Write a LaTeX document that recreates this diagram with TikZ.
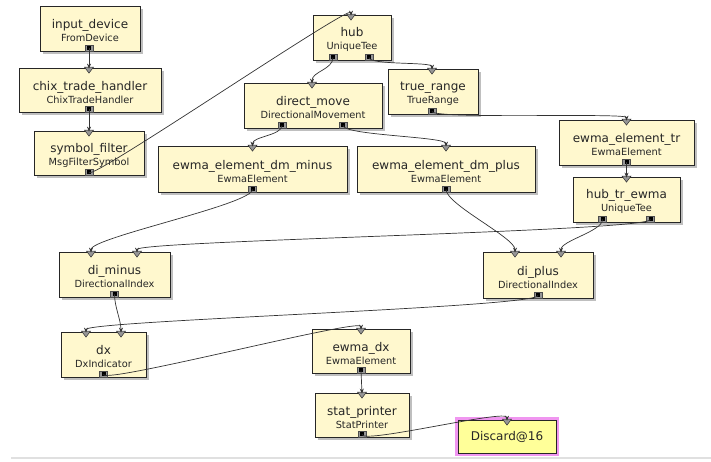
\documentclass[tikz,border=0pt]{standalone}
\usepackage{fontspec}
\setmainfont{DejaVu Sans}
\usetikzlibrary{calc,shadows,arrows.meta}

\definecolor{elemfill}{RGB}{255,248,206}
\definecolor{discfill}{RGB}{255,255,153}
\definecolor{discedge}{RGB}{240,150,240}
\definecolor{portgray}{RGB}{150,150,150}

% element text: instance name over class name
\newcommand{\elem}[2]{\rule{0pt}{14pt}#1\\{\fontsize{9.8}{13}\selectfont #2}}
% ports: name, element, offset from the middle
\newcommand{\inport}[3]{\coordinate (#1) at ($(#2.north)+(#3,1)$);
  \draw[inmark] ($(#1)+(-4.5,-1.5)$) -- ($(#1)+(4.5,-1.5)$) -- ($(#1)+(0,4.5)$) -- cycle;}
\newcommand{\outport}[3]{\coordinate (#1) at ($(#2.south)+(#3,-3)$);
  \draw[outmark] ($(#1)+(-4,-3.5)$) rectangle ($(#1)+(4,3)$);
  \fill ($(#1)+(-2,-2)$) rectangle ($(#1)+(2,1.5)$);}

\tikzset{
  blk/.style={draw=black!85, fill=elemfill, line width=0.8pt, align=center,
    font=\fontsize{12}{13}\selectfont, text=black!85, inner sep=2pt, minimum height=45pt,
    drop shadow={shadow xshift=2.5pt, shadow yshift=-2.5pt, fill=black!25, opacity=1}},
  inmark/.style={fill=portgray, draw=black!80, line width=0.5pt},
  outmark/.style={fill=portgray, draw=black!70, line width=0.5pt},
  wire/.style={draw=black!80, line width=0.7pt, -{Stealth[length=5pt,width=4pt]}},
}

\begin{document}
\begin{tikzpicture}[x=1pt, y=-1pt]
  \useasboundingbox (0,0) rectangle (711,461);

  % elements
  \node[blk, minimum width=100pt] (idev) at (90,28.5) {\elem{input\_device}{FromDevice}};
  \node[blk, minimum width=142pt, minimum height=44pt] (cth) at (90,90) {\elem{chix\_trade\_handler}{ChixTradeHandler}};
  \node[blk, minimum width=110pt, minimum height=44pt] (sf) at (89,153) {\elem{symbol\_filter}{MsgFilterSymbol}};
  \node[blk, minimum width=78pt] (hub) at (352,37.5) {\elem{hub}{UniqueTee}};
  \node[blk, minimum width=90pt] (tr) at (433,91.5) {\elem{true\_range}{TrueRange}};
  \node[blk, minimum width=138pt] (dm) at (313,105.5) {\elem{direct\_move}{DirectionalMovement}};
  \node[blk, minimum width=189pt, minimum height=46pt] (dmm) at (252.5,169) {\elem{ewma\_element\_dm\_minus}{EwmaElement}};
  \node[blk, minimum width=178pt, minimum height=46pt] (dmp) at (446,169) {\elem{ewma\_element\_dm\_plus}{EwmaElement}};
  \node[blk, minimum width=135pt] (ewtr) at (626.5,142.5) {\elem{ewma\_element\_tr}{EwmaElement}};
  \node[blk, minimum width=107pt] (hte) at (626.5,199.5) {\elem{hub\_tr\_ewma}{UniqueTee}};
  \node[blk, minimum width=111pt] (dim) at (114.5,274.5) {\elem{di\_minus}{DirectionalIndex}};
  \node[blk, minimum width=110pt, minimum height=46pt] (dip) at (538,275) {\elem{di\_plus}{DirectionalIndex}};
  \node[blk, minimum width=85pt] (dx) at (103.5,354.5) {\elem{dx}{DxIndicator}};
  \node[blk, minimum width=98pt, minimum height=44pt] (ewdx) at (361,351) {\elem{ewma\_dx}{EwmaElement}};
  \node[blk, minimum width=94pt, minimum height=44pt] (sp) at (362,415) {\elem{stat\_printer}{StatPrinter}};
  \node[blk, fill=discfill, minimum width=98pt, minimum height=33pt,
    preaction={draw=discedge, line width=6pt}] (dis) at (507,436.5) {Discard@16};

  % ports
  \outport{idev-o}{idev}{-1}
  \inport{cth-i}{cth}{-1}  \outport{cth-o}{cth}{-1}
  \inport{sf-i}{sf}{0}     \outport{sf-o}{sf}{0}
  \inport{hub-i}{hub}{-1}  \outport{hub-o0}{hub}{-19}  \outport{hub-o1}{hub}{17}
  \inport{tr-i}{tr}{-1}    \outport{tr-o}{tr}{-1}
  \inport{dm-i}{dm}{-1}    \outport{dm-o0}{dm}{-31}   \outport{dm-o1}{dm}{30}
  \inport{dmm-i}{dmm}{0}   \outport{dmm-o}{dmm}{0}
  \inport{dmp-i}{dmp}{0}   \outport{dmp-o}{dmp}{0}
  \inport{ewtr-i}{ewtr}{0} \outport{ewtr-o}{ewtr}{0}
  \inport{hte-i}{hte}{0}   \outport{hte-o0}{hte}{-24}  \outport{hte-o1}{hte}{24}
  \inport{dim-i0}{dim}{-23.5} \inport{dim-i1}{dim}{22.5} \outport{dim-o}{dim}{0}
  \inport{dip-i0}{dip}{-23}   \inport{dip-i1}{dip}{23}   \outport{dip-o}{dip}{0}
  \inport{dx-i0}{dx}{-17.5}   \inport{dx-i1}{dx}{17.5}   \outport{dx-o}{dx}{0}
  \inport{ewdx-i}{ewdx}{0} \outport{ewdx-o}{ewdx}{0}
  \inport{sp-i}{sp}{0}     \outport{sp-o}{sp}{0}
  \inport{dis-i}{dis}{0}

  % connections
  \draw[wire] (idev-o) -- (cth-i);
  \draw[wire] (cth-o) -- (sf-i);
  \draw[wire] (sf-o) .. controls +(0,10) and +(0,-12) .. (hub-i);
  \draw[wire] (hub-o0) .. controls +(0,12) and +(0,-12) .. (dm-i);
  \draw[wire] (hub-o1) .. controls +(0,8) and +(0,-8) .. (tr-i);
  \draw[wire] (tr-o) .. controls +(0,8) and +(0,-8) .. (ewtr-i);
  \draw[wire] (dm-o0) .. controls +(0,10) and +(0,-10) .. (dmm-i);
  \draw[wire] (dm-o1) .. controls +(0,10) and +(0,-10) .. (dmp-i);
  \draw[wire] (dmm-o) .. controls +(0,15) and +(0,-15) .. (dim-i0);
  \draw[wire] (dmp-o) .. controls +(0,15) and +(0,-15) .. (dip-i0);
  \draw[wire] (ewtr-o) -- (hte-i);
  \draw[wire] (hte-o0) .. controls +(0,12) and +(0,-12) .. (dip-i1);
  \draw[wire] (hte-o1) .. controls +(0,12) and +(0,-12) .. (dim-i1);
  \draw[wire] (dim-o) .. controls +(0,12) and +(0,-12) .. (dx-i1);
  \draw[wire] (dip-o) .. controls +(0,12) and +(0,-12) .. (dx-i0);
  \draw[wire] (dx-o) .. controls +(0,10) and +(0,-12) .. (ewdx-i);
  \draw[wire] (ewdx-o) -- (sp-i);
  \draw[wire] (sp-o) .. controls +(0,10) and +(0,-12) .. (dis-i);

  % bottom rule
  \draw[black!12, line width=1.5pt] (11,458) -- (711,458);
\end{tikzpicture}
\end{document}
